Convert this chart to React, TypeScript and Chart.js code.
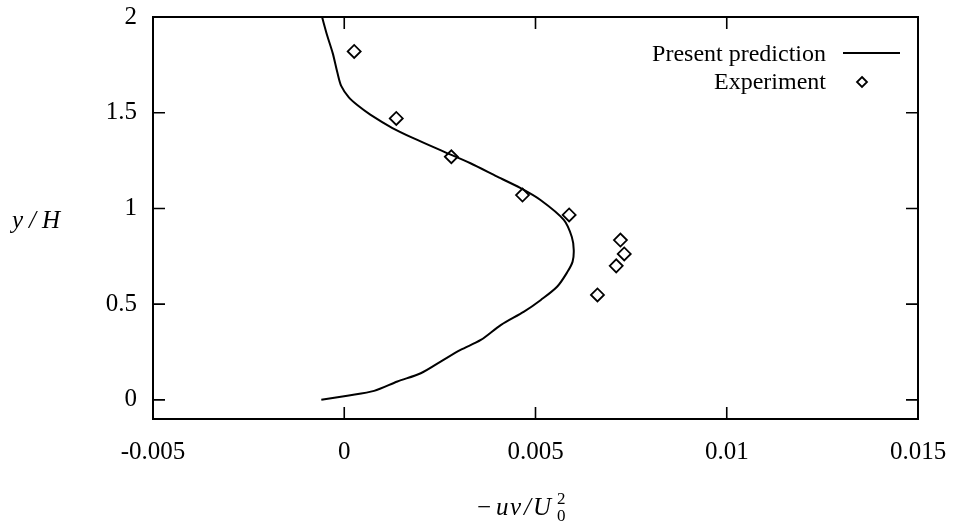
import React, { useEffect, useRef } from "react";
import { Chart, registerables } from "chart.js";

Chart.register(...registerables);

// Predicted Reynolds shear stress profile (-uv/U0^2 against y/H)
const predictionX = [
  -0.00058, -0.00045, -0.0003, -0.00018, -0.00008, 0.00012, 0.00034, 0.00068,
  0.00126, 0.00182, 0.0026, 0.0033, 0.004, 0.0046, 0.00513, 0.00574, 0.00595,
  0.006, 0.00597, 0.00584, 0.00557, 0.00514, 0.0047, 0.0041, 0.00357, 0.00304,
  0.00252, 0.002, 0.00139, 0.00078, 0.00008, -0.0006,
];
const predictionY = [
  2.0, 1.906, 1.81, 1.71, 1.64, 1.58, 1.54, 1.49, 1.42, 1.366, 1.297, 1.236,
  1.166, 1.107, 1.044, 0.94, 0.851, 0.783, 0.722, 0.67, 0.592, 0.522, 0.461,
  0.392, 0.313, 0.261, 0.2, 0.139, 0.096, 0.047, 0.022, 0.0,
];

// Measured values
const experimentX = [0.00026, 0.00136, 0.0028, 0.00466, 0.00588, 0.00722, 0.00732, 0.00711, 0.00662];
const experimentY = [1.82, 1.47, 1.27, 1.07, 0.966, 0.835, 0.762, 0.7, 0.548];

const xTickValues = [-0.005, 0, 0.005, 0.01, 0.015];
const xTickLabels = ["-0.005", "0", "0.005", "0.01", "0.015"];
const yTickValues = [0, 0.5, 1, 1.5, 2];
const yTickLabels = ["0", "0.5", "1", "1.5", "2"];
const legendLabels = ["Present prediction", "Experiment"];

const FONT = "'Liberation Serif', 'DejaVu Serif', serif";
const TICK_LEN = 12;

const framePlugin = {
  id: "frameAndTicks",
  afterDraw(chart: any) {
    const { ctx, chartArea, scales } = chart;
    const { left, right, top, bottom } = chartArea;
    ctx.save();
    ctx.strokeStyle = "#000";
    ctx.lineWidth = 2;
    ctx.strokeRect(left, top, right - left, bottom - top);

    ctx.lineWidth = 1.6;
    ctx.beginPath();
    xTickValues.forEach((v) => {
      const px = scales.x.getPixelForValue(v);
      ctx.moveTo(px, bottom);
      ctx.lineTo(px, bottom - TICK_LEN);
      ctx.moveTo(px, top);
      ctx.lineTo(px, top + TICK_LEN);
    });
    yTickValues.forEach((v) => {
      const py = scales.y.getPixelForValue(v);
      ctx.moveTo(left, py);
      ctx.lineTo(left + TICK_LEN, py);
      ctx.moveTo(right, py);
      ctx.lineTo(right - TICK_LEN, py);
    });
    ctx.stroke();

    // key: right-aligned text followed by its sample
    ctx.fillStyle = "#000";
    ctx.font = `24px ${FONT}`;
    ctx.textAlign = "right";
    ctx.textBaseline = "alphabetic";
    ctx.fillText(legendLabels[0], 826, 61);
    ctx.fillText(legendLabels[1], 826, 89);
    ctx.lineWidth = 2;
    ctx.beginPath();
    ctx.moveTo(843, 53);
    ctx.lineTo(900, 53);
    ctx.stroke();
    ctx.lineWidth = 1.8;
    ctx.beginPath();
    ctx.moveTo(862, 77);
    ctx.lineTo(867, 82);
    ctx.lineTo(862, 87);
    ctx.lineTo(857, 82);
    ctx.closePath();
    ctx.stroke();

    // y-axis title: y/H
    ctx.textAlign = "left";
    ctx.font = `italic 25px ${FONT}`;
    ctx.fillText("y", 12, 228);
    ctx.fillText("/", 29, 228);
    ctx.fillText("H", 42, 228);

    // x-axis title: -uv/U_0^2
    ctx.font = `25px ${FONT}`;
    ctx.fillText("\u2212", 477, 515);
    ctx.font = `italic 25px ${FONT}`;
    ctx.fillText("u", 496, 515);
    ctx.fillText("v", 510, 515);
    ctx.fillText("/", 524, 515);
    ctx.fillText("U", 533, 515);
    ctx.font = `17px ${FONT}`;
    ctx.fillText("2", 557, 504);
    ctx.fillText("0", 557, 521);
    ctx.restore();
  },
};

// keep the plot frame fixed: no extra room reserved for edge tick labels
const clearScalePadding = (scale: any) => {
  scale.paddingTop = 0;
  scale.paddingBottom = 0;
  scale.paddingLeft = 0;
  scale.paddingRight = 0;
};

export default function App() {
  const canvasRef = useRef<HTMLCanvasElement | null>(null);

  useEffect(() => {
    const canvas = canvasRef.current;
    if (!canvas) return;
    const chart = new Chart(canvas, {
      type: "scatter",
      data: {
        datasets: [
          {
            label: legendLabels[0],
            data: predictionX.map((x, i) => ({ x, y: predictionY[i] })),
            showLine: true,
            borderColor: "#000",
            borderWidth: 2,
            pointRadius: 0,
            tension: 0.3,
            fill: false,
          },
          {
            label: legendLabels[1],
            data: experimentX.map((x, i) => ({ x, y: experimentY[i] })),
            showLine: false,
            pointStyle: "rectRot",
            pointRadius: 6.5,
            pointBorderWidth: 1.8,
            pointBorderColor: "#000",
            pointBackgroundColor: "rgba(255,255,255,0)",
            borderColor: "#000",
            backgroundColor: "rgba(255,255,255,0)",
          },
        ],
      },
      options: {
        responsive: false,
        animation: false,
        layout: { padding: { top: 17, right: 38, left: 0, bottom: 0 } },
        plugins: {
          legend: { display: false },
          tooltip: { enabled: false },
        },
        scales: {
          x: {
            type: "linear",
            position: "bottom",
            min: -0.005,
            max: 0.015,
            grid: { display: false, drawTicks: false },
            border: { display: false },
            afterBuildTicks: (scale: any) => {
              scale.ticks = xTickValues.map((value) => ({ value }));
            },
            afterFit: (scale: any) => {
              scale.height = 105;
              clearScalePadding(scale);
            },
            ticks: {
              color: "#000",
              font: { family: FONT, size: 25 },
              padding: 18,
              maxRotation: 0,
              autoSkip: false,
              callback: (value: any) => {
                const i = xTickValues.findIndex((v) => Math.abs(v - value) < 1e-9);
                return i >= 0 ? xTickLabels[i] : "";
              },
            },
          },
          y: {
            type: "linear",
            position: "left",
            min: -0.1,
            max: 2,
            grid: { display: false, drawTicks: false },
            border: { display: false },
            afterBuildTicks: (scale: any) => {
              scale.ticks = yTickValues.map((value) => ({ value }));
            },
            afterFit: (scale: any) => {
              scale.width = 153;
              clearScalePadding(scale);
            },
            ticks: {
              color: "#000",
              font: { family: FONT, size: 25 },
              padding: 16,
              autoSkip: false,
              callback: (value: any) => {
                const i = yTickValues.findIndex((v) => Math.abs(v - value) < 1e-9);
                return i >= 0 ? yTickLabels[i] : "";
              },
            },
          },
        },
      },
      plugins: [framePlugin],
    });
    return () => chart.destroy();
  }, []);

  return (
    <div style={{ position: "fixed", left: 0, top: 0, width: 956, height: 524, background: "#fff" }}>
      <canvas ref={canvasRef} width={956} height={524} />
    </div>
  );
}
